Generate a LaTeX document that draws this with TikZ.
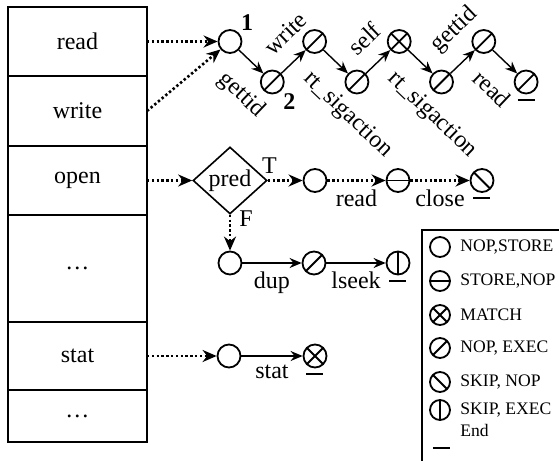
\documentclass[tikz,border=0pt]{standalone}
\usepackage{fontspec}
\setmainfont{Liberation Serif}
\usetikzlibrary{calc,positioning,arrows.meta,shapes.geometric}

\newcommand{\finbar}[1]{\draw[endbar] ($(#1.south)+(-8.5,5.5)$) -- ($(#1.south)+(8.5,5.5)$);}

\begin{document}
\begin{tikzpicture}[x=0.5pt,y=-0.5pt,font=\fontsize{12}{14}\selectfont,cell/.style={draw,line width=0.8pt,minimum width=69.5pt,inner sep=0pt,outer sep=0pt},sym/.style={draw,circle,line width=0.9pt,minimum size=11.5pt,inner sep=0pt},key/.style={minimum size=10pt},nopstore/.style={sym},storenop/.style={sym,path picture={\draw[line width=0.9pt] (path picture bounding box.west) -- (path picture bounding box.east);}},match/.style={sym,path picture={\draw[line width=0.9pt] (path picture bounding box.south west) -- (path picture bounding box.north east) (path picture bounding box.north west) -- (path picture bounding box.south east);}},nopexec/.style={sym,path picture={\draw[line width=0.9pt] (path picture bounding box.south west) -- (path picture bounding box.north east);}},skipnop/.style={sym,path picture={\draw[line width=0.9pt] (path picture bounding box.north west) -- (path picture bounding box.south east);}},skipexec/.style={sym,path picture={\draw[line width=0.9pt] (path picture bounding box.north) -- (path picture bounding box.south);}},pred/.style={draw,diamond,line width=0.8pt,minimum width=37pt,minimum height=33.5pt,inner sep=0pt},arrow/.style={-{Stealth[length=6pt,width=5pt]},line width=0.7pt},dotarrow/.style={-{Stealth[length=7pt,width=6pt]},line width=1.3pt,dash pattern=on 1.2pt off 1.2pt},endbar/.style={line width=1pt},num/.style={font=\bfseries\fontsize{12}{14}\selectfont,inner sep=1pt},dlabel/.style={sloped,pos=0.15,anchor=north west,inner xsep=0pt,inner ysep=9.5pt},ulabel/.style={sloped,pos=0.15,anchor=south west,inner xsep=0pt,inner ysep=8.5pt},blabel/.style={below=3pt,inner sep=1pt},keytext/.style={anchor=west,inner sep=0pt,font=\fontsize{8.8}{10}\selectfont}]
  \useasboundingbox (0,0) rectangle (559,461);

  % syscall table
  \node[cell,minimum height=34.5pt] (read) at (77.5,41.5) {read};
  \node[cell,minimum height=35pt,below=0pt of read] (write) {write};
  \node[cell,minimum height=34.5pt,below=0pt of write] (open) {open};
  \node[cell,minimum height=53.5pt,below=0pt of open] (more) {\dots};
  \node[cell,minimum height=34pt,below=0pt of more] (stat) {stat};
  \node[cell,minimum height=26pt,below=0pt of stat] (rest) {\dots};

  % read / write
  \node[nopstore,label={[num]north east:1}] (n1) at ($ (read.east) + (83,0) $) {};
  \node[nopexec,label={[num]south east:2}] (n2) at ($ (n1) + (42.3,40.5) $) {};
  \node[nopexec] (n3) at ($ (n2) + (42.3,-40.5) $) {};
  \node[nopexec] (n4) at ($ (n3) + (42.3,40.5) $) {};
  \node[match] (n5) at ($ (n4) + (42.3,-40.5) $) {};
  \node[nopexec] (n6) at ($ (n5) + (42.3,40.5) $) {};
  \node[nopexec] (n7) at ($ (n6) + (42.3,-40.5) $) {};
  \node[nopexec] (n8) at ($ (n7) + (42.3,40.5) $) {};
  \draw[dotarrow] (read.east) -- (n1);
  \draw[dotarrow] (write.east) -- (n1);
  \draw[arrow] (n1) -- node[dlabel] {gettid} (n2);
  \draw[arrow] (n2) -- node[ulabel] {write} (n3);
  \draw[arrow] (n3) -- node[dlabel] {rt\_sigaction} (n4);
  \draw[arrow] (n4) -- node[ulabel] {self} (n5);
  \draw[arrow] (n5) -- node[dlabel] {rt\_sigaction} (n6);
  \draw[arrow] (n6) -- node[ulabel] {gettid} (n7);
  \draw[arrow] (n7) -- node[dlabel] {read} (n8);
  \finbar{n8}

  % open
  \node[pred] (cond) at ($ (open.east) + (83,0) $) {pred};
  \node[nopstore] (m1) at ($ (cond) + (85,0) $) {};
  \node[storenop] (m2) at ($ (m1) + (83,0) $) {};
  \node[skipnop] (m3) at ($ (m2) + (84,0) $) {};
  \node[nopstore] (m4) at ($ (cond) + (0,82.5) $) {};
  \node[nopexec] (m5) at ($ (m4) + (84,0) $) {};
  \node[skipexec] (m6) at ($ (m5) + (84,0) $) {};
  \draw[dotarrow] (open.east) -- (cond);
  \draw[dotarrow] (cond) -- node[pos=0.05,above=2pt,inner sep=1pt] {T} (m1);
  \draw[dotarrow] (m1) -- node[blabel] {read} (m2);
  \draw[dotarrow] (m2) -- node[blabel] {close} (m3);
  \draw[dotarrow] (cond) -- node[pos=0.1,right=3pt,inner sep=1pt] {F} (m4);
  \draw[arrow] (m4) -- node[blabel] {dup} (m5);
  \draw[arrow] (m5) -- node[blabel] {lseek} (m6);
  \finbar{m3}
  \finbar{m6}

  % stat
  \node[nopstore] (s1) at ($ (stat.east) + (82,0) $) {};
  \node[match] (s2) at ($ (s1) + (86,0) $) {};
  \draw[dotarrow] (stat.east) -- (s1);
  \draw[arrow] (s1) -- node[blabel] {stat} (s2);
  \finbar{s2}

  % legend
  \draw[line width=0.8pt] (559,230) -- (422,230) -- (422,461);
  \node[nopstore,key] (k1) at (440,247) {};
  \node[storenop,key] (k2) at (440,281) {};
  \node[match,key] (k3) at (440,315) {};
  \node[nopexec,key] (k4) at (440,348) {};
  \node[skipnop,key] (k5) at (440,382) {};
  \node[skipexec,key] (k6) at (440,410) {};
  \node[keytext] (t1) at (460,247) {NOP,STORE};
  \node[keytext] (t2) at (460,281) {STORE,NOP};
  \node[keytext] (t3) at (460,315) {MATCH};
  \node[keytext] (t4) at (460,348) {NOP, EXEC};
  \node[keytext] (t5) at (460,382) {SKIP, NOP};
  \node[keytext] (t6) at (460,410) {SKIP, EXEC};
  \node[keytext] (t7) at (460,430) {End};
  \draw[endbar] (433,448) -- (450,448);
\end{tikzpicture}
\end{document}
